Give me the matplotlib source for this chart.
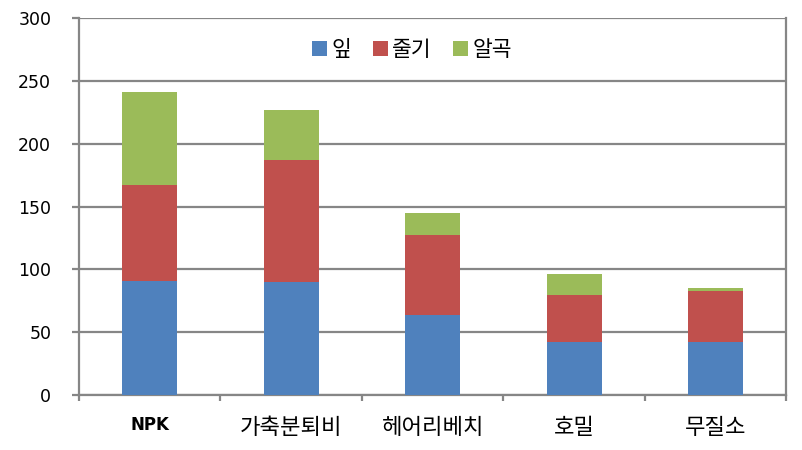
import numpy as np
import matplotlib
matplotlib.use("Agg")
import matplotlib.pyplot as plt
from matplotlib.ticker import FixedLocator

plt.rcParams['font.family'] = ['DejaVu Sans', 'Noto Sans CJK KR']

# --- 데이터 ---
categories = ['NPK', '가축분퇴비', '헤어리베치', '호밀', '무질소']
series_names = ['잎', '줄기', '알곡']
leaf = [91, 90, 64, 42, 42]
stem = [76, 97, 63, 38, 41]
grain = [74, 40, 18, 16, 2]
yticks = [0, 50, 100, 150, 200, 250, 300]

colors = ['#4F81BD', '#C0504D', '#9BBB59']
grey = '#868686'
kr = ['Noto Sans CJK KR', 'DejaVu Sans']

fig = plt.figure(figsize=(8.02, 4.5), dpi=100)
ax = fig.add_axes([0.0985, 0.122, 0.882, 0.838])

x = np.arange(len(categories))
leaf = np.array(leaf)
stem = np.array(stem)
grain = np.array(grain)
w = 0.39
ax.bar(x, leaf, w, color=colors[0], label=series_names[0], zorder=3)
ax.bar(x, stem, w, bottom=leaf, color=colors[1], label=series_names[1], zorder=3)
ax.bar(x, grain, w, bottom=leaf + stem, color=colors[2], label=series_names[2], zorder=3)

ax.set_xlim(-0.5, len(categories) - 0.5)
ax.set_ylim(0, 300)
ax.set_yticks(yticks)
ax.set_xticks(x)
ax.set_xticklabels(categories)
ax.xaxis.set_minor_locator(FixedLocator(np.arange(-0.5, len(categories), 1.0)))

ax.grid(axis='y', color=grey, linewidth=1.6, zorder=0)
for s in ['left', 'right', 'bottom']:
    ax.spines[s].set_color(grey)
    ax.spines[s].set_linewidth(1.6)
ax.spines['top'].set_visible(False)

ax.tick_params(axis='y', which='major', length=5, width=1.6, color=grey,
               labelsize=12.5, pad=15)
ax.tick_params(axis='x', which='major', length=0, pad=15)
ax.tick_params(axis='x', which='minor', length=4, width=1.6, color=grey, direction='out')

for lbl in ax.get_xticklabels():
    if lbl.get_text() == 'NPK':
        lbl.set_fontsize(12)
        lbl.set_fontweight('bold')
    else:
        lbl.set_fontfamily(kr)
        lbl.set_fontsize(16)

ax.legend(loc='center', bbox_to_anchor=(0.471, 0.915), ncol=3, frameon=False,
          prop={'family': kr, 'size': 15.5}, handlelength=0.7, handleheight=0.65,
          handletextpad=0.2, columnspacing=1.0)

fig.savefig('out.png', dpi=100)
